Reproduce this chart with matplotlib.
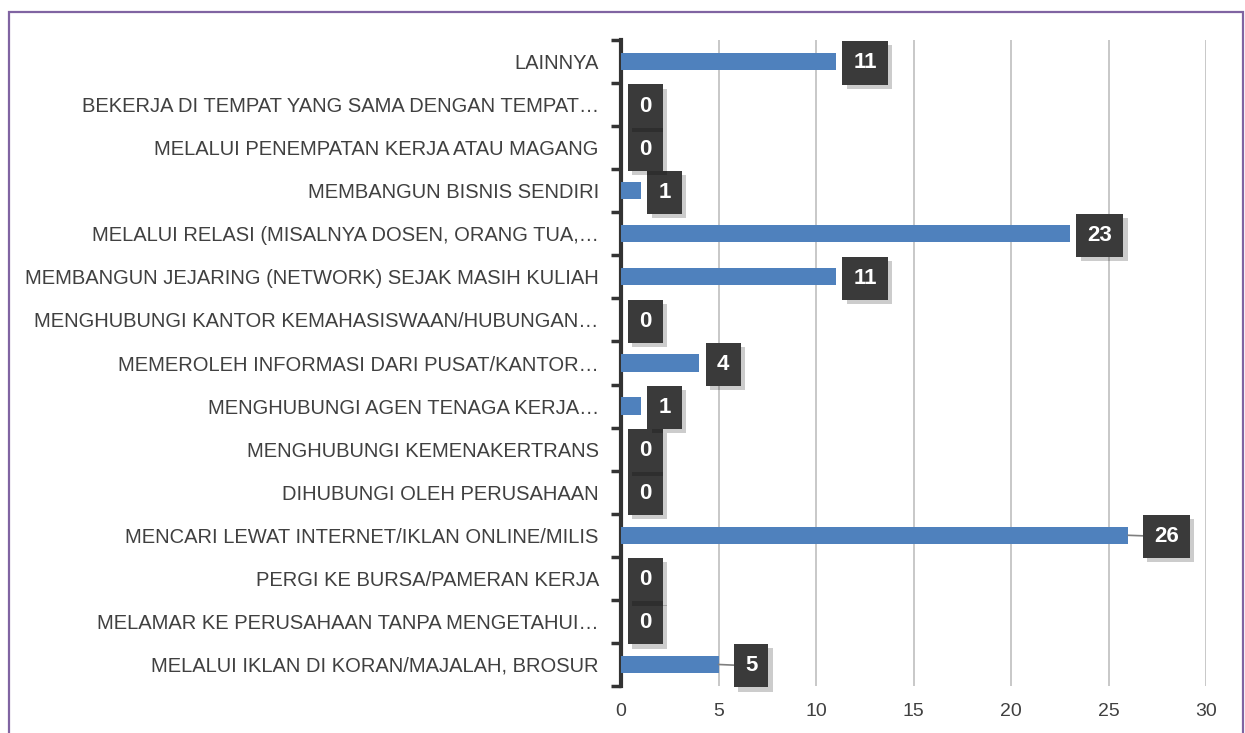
import numpy as np
import matplotlib.pyplot as plt
import matplotlib.patheffects as pe
from matplotlib.patches import Rectangle

plt.rcParams['font.family'] = ['Liberation Sans', 'DejaVu Sans']

# categories from bottom to top (as drawn)
categories = [
    'MELALUI IKLAN DI KORAN/MAJALAH, BROSUR',
    'MELAMAR KE PERUSAHAAN TANPA MENGETAHUI…',
    'PERGI KE BURSA/PAMERAN KERJA',
    'MENCARI LEWAT INTERNET/IKLAN ONLINE/MILIS',
    'DIHUBUNGI OLEH PERUSAHAAN',
    'MENGHUBUNGI KEMENAKERTRANS',
    'MENGHUBUNGI AGEN TENAGA KERJA…',
    'MEMEROLEH INFORMASI DARI PUSAT/KANTOR…',
    'MENGHUBUNGI KANTOR KEMAHASISWAAN/HUBUNGAN…',
    'MEMBANGUN JEJARING (NETWORK) SEJAK MASIH KULIAH',
    'MELALUI RELASI (MISALNYA DOSEN, ORANG TUA,…',
    'MEMBANGUN BISNIS SENDIRI',
    'MELALUI PENEMPATAN KERJA ATAU MAGANG',
    'BEKERJA DI TEMPAT YANG SAMA DENGAN TEMPAT…',
    'LAINNYA',
]
values = [5, 0, 0, 26, 0, 0, 1, 4, 0, 11, 23, 1, 0, 0, 11]
x_ticks = [0, 5, 10, 15, 20, 25, 30]

bar_color = '#4F81BD'
text_color = '#404040'

fig = plt.figure(figsize=(12.45, 7.33), dpi=100)
ax = fig.add_axes([0.4988, 0.0641, 0.4699, 0.8813])

y = np.arange(len(categories))
ax.barh(y, values, height=0.4, color=bar_color, zorder=3)

ax.set_xlim(0, 30)
ax.set_ylim(-0.5, len(categories) - 0.5)
ax.set_xticks(x_ticks)
ax.xaxis.grid(True, color='#BFBFBF', linewidth=1.2, zorder=0)
ax.tick_params(axis='x', length=0, labelsize=14, labelcolor=text_color, pad=12)

ax.set_yticks(y)
ax.set_yticklabels(categories, fontsize=14.5, color=text_color)
ax.tick_params(axis='y', which='major', length=0, pad=16)
ax.set_yticks(np.arange(-0.5, len(categories), 1), minor=True)
ax.tick_params(axis='y', which='minor', length=7, width=2.5, color='#333333', direction='out')

for s in ['top', 'right', 'bottom']:
    ax.spines[s].set_visible(False)
ax.spines['left'].set_linewidth(3)
ax.spines['left'].set_color('#333333')

# data callouts
for yi, v in zip(y, values):
    leader = v in (5, 26)
    off = 19 if leader else 13
    t = ax.annotate(str(v), xy=(v, yi), xytext=(off, -1), textcoords='offset points',
                    ha='left', va='center', color='white', fontsize=16, fontweight='bold',
                    bbox=dict(boxstyle='square,pad=0.5', fc='#3A3A3A', ec='none'),
                    arrowprops=dict(arrowstyle='-', color='#7F7F7F', lw=1.2,
                                    shrinkA=0, shrinkB=0) if leader else None,
                    zorder=6)
    t.get_bbox_patch().set_path_effects([
        pe.SimplePatchShadow(offset=(3, -3), shadow_rgbFace='#000000', alpha=0.2),
        pe.Normal()])

# purple frame
fig.patches.append(Rectangle((9 / 1245, -0.05), 1234 / 1245, 1.05 - 12 / 733,
                             transform=fig.transFigure, fill=False,
                             edgecolor='#8064A2', linewidth=1.6))

plt.savefig('out.png', dpi=100)
